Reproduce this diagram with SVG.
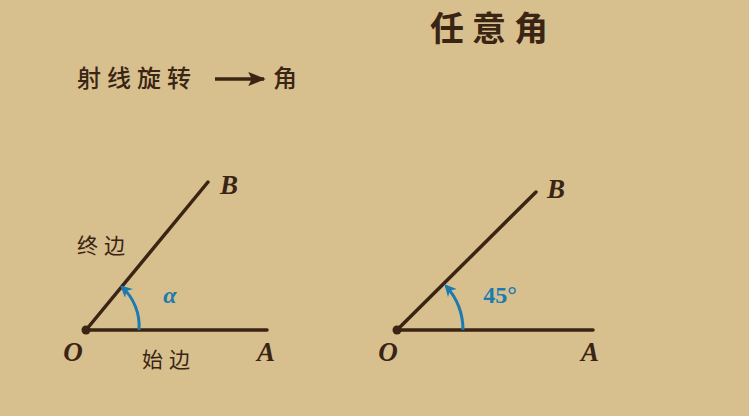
<svg xmlns="http://www.w3.org/2000/svg" width="749" height="416" viewBox="0 0 749 416">
<defs>
<style>
.cjk{font-family:"Noto Sans CJK SC","Noto Sans",sans-serif;fill:#3a2414;}
.lbl{font-family:"Liberation Serif",serif;font-style:italic;font-weight:bold;font-size:27px;fill:#3a2414;}
.blue{font-family:"Liberation Serif",serif;font-weight:bold;font-size:24px;fill:#1b7bb0;}
.ray{stroke:#3a2414;stroke-width:3.5;fill:none;stroke-linecap:round;}
.arc{stroke:#1b7bb0;stroke-width:3;fill:none;}
</style>
<marker id="ah" viewBox="0 0 10 10" refX="8" refY="5" markerWidth="4" markerHeight="4" orient="auto">
<path d="M0,0 L10,5 L0,10 L3,5 Z" fill="#1b7bb0"/>
</marker>
<marker id="ah2" viewBox="0 0 10 10" refX="9" refY="5" markerWidth="5" markerHeight="5" orient="auto">
<path d="M0,1 L10,5 L0,9 L2,5 Z" fill="#3a2414"/>
</marker>
</defs>
<rect width="749" height="416" fill="#d7bf8e"/>
<g id="title"><text class="cjk" x="493" y="41" font-size="34" font-weight="bold" text-anchor="middle" letter-spacing="8">任意角</text></g>
<g id="subtitle">
<text class="cjk" x="77" y="87" font-size="24" font-weight="500" letter-spacing="6">射线旋转</text>
<line x1="215" y1="79" x2="264" y2="79" stroke="#3a2414" stroke-width="3.5" marker-end="url(#ah2)"/>
<text class="cjk" x="273" y="87" font-size="24" font-weight="500">角</text>
</g>
<g id="figure-alpha">
<line class="ray" x1="86" y1="330" x2="267" y2="330"/>
<line class="ray" x1="86" y1="330" x2="208" y2="182"/>
<circle cx="86" cy="330" r="4.5" fill="#3a2414"/>
<path class="arc" d="M139,330 A53,53 0 0 0 122,287" marker-end="url(#ah)"/>
<text class="lbl" x="229" y="194" text-anchor="middle">B</text>
<text class="lbl" x="73" y="361" text-anchor="middle">O</text>
<text class="lbl" x="266" y="361" text-anchor="middle">A</text>
<text class="blue" x="170" y="303" text-anchor="middle" font-style="italic" font-size="26">α</text>
<text class="cjk" x="77" y="253" font-size="21" letter-spacing="6">终边</text>
<text class="cjk" x="142" y="367" font-size="21" letter-spacing="6">始边</text>
</g>
<g id="figure-45">
<line class="ray" x1="397" y1="330" x2="593" y2="330"/>
<line class="ray" x1="397" y1="330" x2="536" y2="192"/>
<circle cx="397" cy="330" r="4.5" fill="#3a2414"/>
<path class="arc" d="M463,330 A66,66 0 0 0 446,286" marker-end="url(#ah)"/>
<text class="lbl" x="556" y="198" text-anchor="middle">B</text>
<text class="lbl" x="388" y="361" text-anchor="middle">O</text>
<text class="lbl" x="590" y="361" text-anchor="middle">A</text>
<text class="blue" x="500" y="303" text-anchor="middle">45°</text>
</g>
</svg>
